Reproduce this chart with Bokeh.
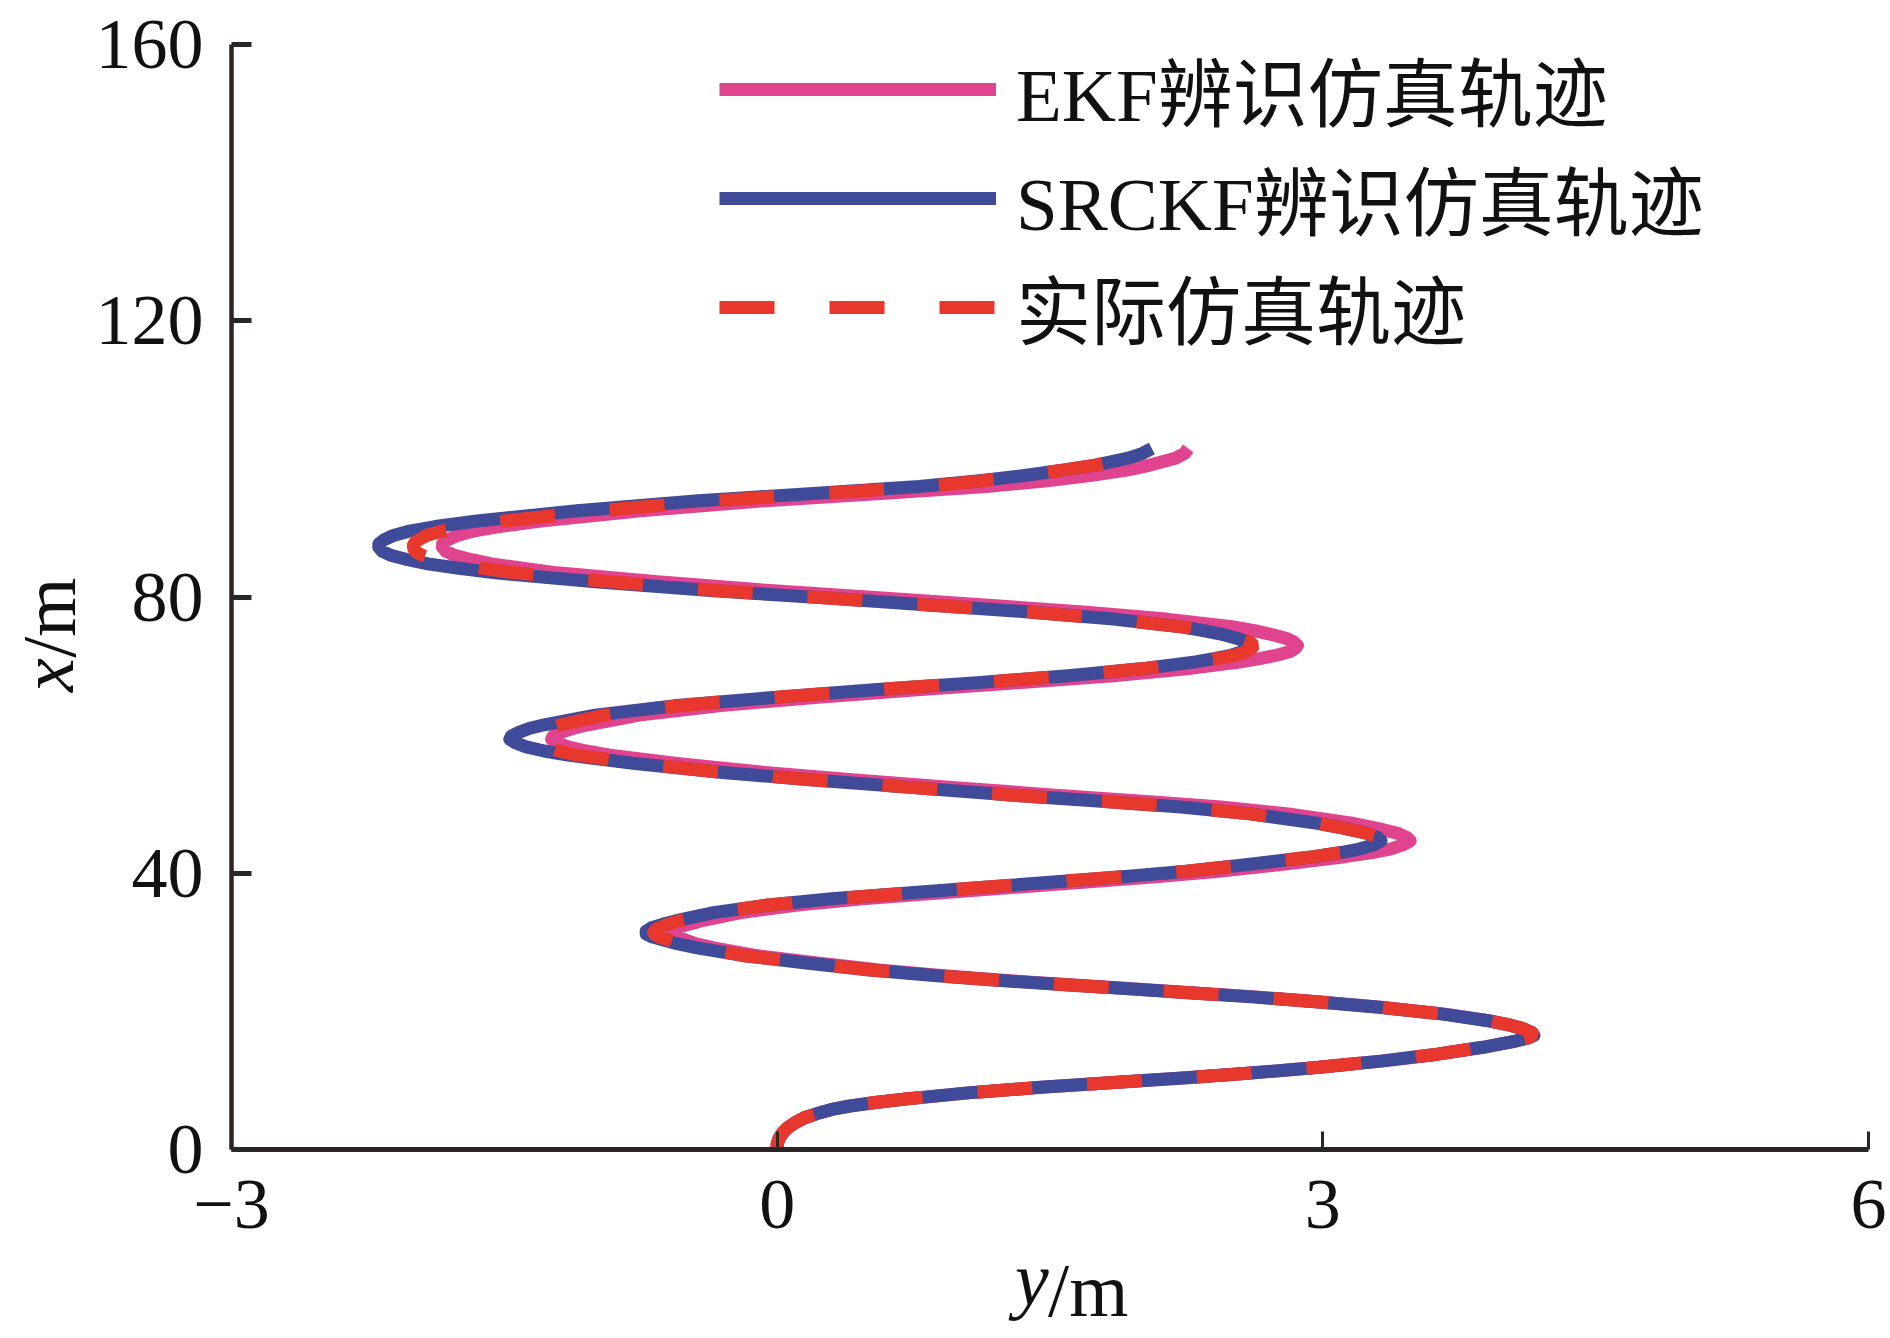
from bokeh.plotting import figure
from bokeh.models import Range1d, FixedTicker, Legend, LegendItem, LinearAxis
from bokeh.embed import file_html
from bokeh.resources import INLINE

# ---------------- data ----------------
x_ticks = [-3, 0, 3, 6]
y_ticks = [0, 40, 80, 120, 160]
x_tick_labels = {-3: "\u22123", 0: "0", 3: "3", 6: "6"}

# advance x (m), common to the three trajectories
adv_x = [0.0, 0.8, 1.6, 2.4, 3.2, 3.9, 4.6, 5.2, 5.8, 6.3,
         6.8, 7.3, 8.2, 9.0, 9.7, 10.4, 11.1, 11.9, 12.8, 13.8,
         14.8, 15.3, 15.7, 16.1, 16.5, 16.9, 17.5, 18.0, 18.6, 19.6,
         20.6, 21.4, 22.1, 22.7, 23.3, 23.9, 24.5, 25.2, 26.0, 27.0,
         28.1, 29.2, 29.8, 30.3, 30.8, 31.2, 31.6, 32.1, 32.6, 33.1,
         34.3, 35.4, 36.3, 37.1, 37.9, 38.7, 39.5, 40.3, 41.3, 42.4,
         43.0, 43.5, 44.1, 44.7, 45.2, 45.8, 46.5, 47.2, 48.6, 49.6,
         50.4, 51.3, 52.4, 53.5, 54.6, 55.9, 57.1, 57.7, 58.3, 58.9,
         59.4, 59.9, 60.4, 61.0, 61.5, 62.9, 64.3, 65.5, 66.6, 67.6,
         68.6, 69.6, 70.6, 71.1, 71.6, 72.1, 72.6, 73.0, 73.5, 74.0,
         74.5, 75.1, 75.7, 76.8, 77.8, 78.8, 79.8, 80.9, 82.2, 83.5,
         84.2, 84.8, 85.4, 86.0, 86.6, 87.2, 87.7, 88.3, 88.9, 89.5,
         90.2, 91.0, 92.5, 93.9, 95.0, 96.0, 96.8, 97.6, 98.4, 99.1,
         100.1, 100.8, 101.5]

# lateral y (m): SRCKF identification trajectory
srckf_y = [0.00, 0.00, 0.01, 0.03, 0.06, 0.10, 0.15, 0.22, 0.30, 0.40,
           0.54, 0.70, 1.05, 1.45, 1.85, 2.25, 2.62, 2.98, 3.32, 3.63,
           3.88, 3.98, 4.06, 4.12, 4.16, 4.15, 4.10, 4.03, 3.92, 3.66,
           3.31, 2.96, 2.61, 2.26, 1.91, 1.56, 1.21, 0.86, 0.51, 0.16,
           -0.19, -0.44, -0.55, -0.62, -0.69, -0.72, -0.72, -0.69, -0.63, -0.56,
           -0.35, -0.05, 0.30, 0.70, 1.10, 1.50, 1.90, 2.25, 2.60, 2.95,
           3.10, 3.20, 3.28, 3.32, 3.30, 3.24, 3.12, 2.98, 2.60, 2.22,
           1.80, 1.30, 0.75, 0.20, -0.30, -0.78, -1.15, -1.28, -1.38, -1.44,
           -1.47, -1.46, -1.42, -1.36, -1.28, -1.00, -0.55, 0.00, 0.55, 1.10,
           1.60, 2.00, 2.30, 2.41, 2.50, 2.56, 2.59, 2.60, 2.58, 2.53,
           2.46, 2.35, 2.22, 1.85, 1.40, 0.85, 0.30, -0.35, -1.00, -1.55,
           -1.76, -1.92, -2.03, -2.12, -2.17, -2.19, -2.19, -2.16, -2.11, -2.03,
           -1.88, -1.65, -1.10, -0.45, 0.20, 0.78, 1.10, 1.36, 1.58, 1.75,
           1.93, 2.01, 2.06]

# lateral y (m): actual simulated trajectory
actual_y = [0.00, 0.00, 0.01, 0.03, 0.06, 0.10, 0.15, 0.22, 0.30, 0.40,
            0.54, 0.70, 1.05, 1.45, 1.85, 2.25, 2.62, 2.98, 3.32, 3.63,
            3.88, 3.98, 4.06, 4.12, 4.16, 4.15, 4.10, 4.03, 3.92, 3.66,
            3.31, 2.96, 2.61, 2.26, 1.91, 1.56, 1.21, 0.86, 0.51, 0.16,
            -0.19, -0.43, -0.53, -0.59, -0.65, -0.68, -0.68, -0.65, -0.60, -0.54,
            -0.34, -0.05, 0.30, 0.70, 1.10, 1.50, 1.90, 2.25, 2.60, 2.95,
            3.10, 3.20, 3.28, 3.33, 3.31, 3.24, 3.12, 2.98, 2.60, 2.22,
            1.80, 1.30, 0.75, 0.20, -0.30, -0.76, -1.10, -1.20, -1.28, -1.33,
            -1.35, -1.34, -1.31, -1.26, -1.19, -0.95, -0.53, 0.00, 0.55, 1.10,
            1.60, 2.00, 2.30, 2.43, 2.52, 2.58, 2.61, 2.62, 2.60, 2.55,
            2.46, 2.35, 2.22, 1.85, 1.40, 0.85, 0.30, -0.31, -0.92, -1.44,
            -1.63, -1.77, -1.87, -1.95, -1.99, -2.00, -2.00, -1.97, -1.93, -1.85,
            -1.72, -1.50, -0.98, -0.36, 0.26, 0.82, 1.12, 1.36, 1.58, 1.75,
            1.93, 2.02, 2.07]

# lateral y (m): EKF identification trajectory
ekf_y = [0.00, 0.00, 0.01, 0.03, 0.06, 0.10, 0.15, 0.22, 0.30, 0.40,
         0.54, 0.70, 1.05, 1.45, 1.85, 2.25, 2.62, 2.98, 3.32, 3.63,
         3.88, 3.98, 4.06, 4.12, 4.16, 4.15, 4.10, 4.03, 3.92, 3.67,
         3.32, 2.97, 2.63, 2.28, 1.93, 1.59, 1.24, 0.90, 0.56, 0.22,
         -0.12, -0.35, -0.45, -0.50, -0.56, -0.58, -0.58, -0.55, -0.49, -0.42,
         -0.20, 0.11, 0.47, 0.87, 1.27, 1.68, 2.08, 2.43, 2.78, 3.12,
         3.27, 3.37, 3.44, 3.48, 3.46, 3.41, 3.30, 3.17, 2.81, 2.44,
         2.03, 1.53, 0.98, 0.43, -0.07, -0.55, -0.92, -1.05, -1.15, -1.21,
         -1.24, -1.23, -1.19, -1.12, -1.04, -0.76, -0.31, 0.24, 0.79, 1.34,
         1.85, 2.25, 2.55, 2.66, 2.75, 2.82, 2.85, 2.86, 2.84, 2.80,
         2.73, 2.63, 2.50, 2.14, 1.70, 1.16, 0.62, -0.02, -0.66, -1.21,
         -1.41, -1.57, -1.68, -1.77, -1.82, -1.84, -1.84, -1.81, -1.76, -1.68,
         -1.53, -1.30, -0.75, -0.09, 0.57, 1.15, 1.47, 1.72, 1.93, 2.05,
         2.19, 2.24, 2.26]

labels = ["EKF\u8fa8\u8bc6\u4eff\u771f\u8f68\u8ff9", "SRCKF\u8fa8\u8bc6\u4eff\u771f\u8f68\u8ff9",
          "\u5b9e\u9645\u4eff\u771f\u8f68\u8ff9"]
x_title = ("y", "/m")   # horizontal axis title: italic variable + unit
y_title = ("x", "/m")   # vertical axis title

# ---------------- figure ----------------
SERIF = "'Liberation Serif', 'Noto Sans CJK SC'"
p = figure(width=1890, height=1338, output_backend="svg", toolbar_location=None,
           x_range=Range1d(-3, 6), y_range=Range1d(0, 160),
           min_border_left=231, min_border_right=22, min_border_top=44, min_border_bottom=189)
p.background_fill_color = "white"
p.border_fill_color = "white"
p.outline_line_color = None
p.xgrid.visible = False
p.ygrid.visible = False

axis_color = "#2b2624"
p.xaxis.ticker = FixedTicker(ticks=x_ticks)
p.yaxis.ticker = FixedTicker(ticks=y_ticks)
p.xaxis.major_label_overrides = x_tick_labels
for ax in (p.xaxis[0], p.yaxis[0]):
    ax.axis_line_color = axis_color
    ax.major_tick_line_color = axis_color
    ax.minor_tick_line_color = None
    ax.major_tick_out = 0
    ax.major_label_text_font = "Liberation Serif"
    ax.major_label_text_font_size = "72px"
    ax.major_label_text_color = "#111111"
p.xaxis.axis_line_width = 5
p.yaxis.axis_line_width = 4.5
p.xaxis.major_tick_line_width = 3
p.yaxis.major_tick_line_width = 5
p.xaxis.major_tick_in = 18
p.yaxis.major_tick_in = 20
p.xaxis.major_label_standoff = 31
p.yaxis.major_label_standoff = 28


def title_axis(pos, text, italic, standoff, vertical):
    ax = LinearAxis(ticker=FixedTicker(ticks=[pos]), major_label_overrides={pos: text},
                    axis_line_color=None, major_tick_line_color=None, minor_tick_line_color=None,
                    major_tick_in=0, major_tick_out=0, major_label_standoff=standoff,
                    major_label_text_font="Liberation Serif", major_label_text_font_size="76px",
                    major_label_text_color="#111111",
                    major_label_text_font_style="italic" if italic else "normal")
    if vertical:
        ax.major_label_orientation = "vertical"
    return ax


# horizontal axis title "y/m" below the tick labels
p.add_layout(title_axis(1.40, x_title[0], True, 6, False), "below")
p.add_layout(title_axis(1.71, x_title[1], False, -76, False), "below")
# vertical axis title "x/m" left of the tick labels
p.add_layout(title_axis(68.7, y_title[0], True, 3, True), "left")
p.add_layout(title_axis(77.0, y_title[1], False, -88, True), "left")

r_ekf = p.line(ekf_y, adv_x, line_color="#E0448F", line_width=13, line_join="round")
r_srckf = p.line(srckf_y, adv_x, line_color="#3F4A98", line_width=13, line_join="round")
r_act = p.line(actual_y, adv_x, line_color="#E8382D", line_width=13, line_dash="55 55")

legend = Legend(items=[LegendItem(label=labels[0], renderers=[r_ekf]),
                       LegendItem(label=labels[1], renderers=[r_srckf]),
                       LegendItem(label=labels[2], renderers=[r_act])],
                location=(488, 788), glyph_width=277, glyph_height=108, label_height=108,
                spacing=0, padding=0, margin=0, label_standoff=20,
                border_line_color=None, background_fill_alpha=0,
                label_text_font=SERIF, label_text_font_size="75px", label_text_color="#111111")
p.add_layout(legend)

open("out.html", "w").write(file_html(p, INLINE))
